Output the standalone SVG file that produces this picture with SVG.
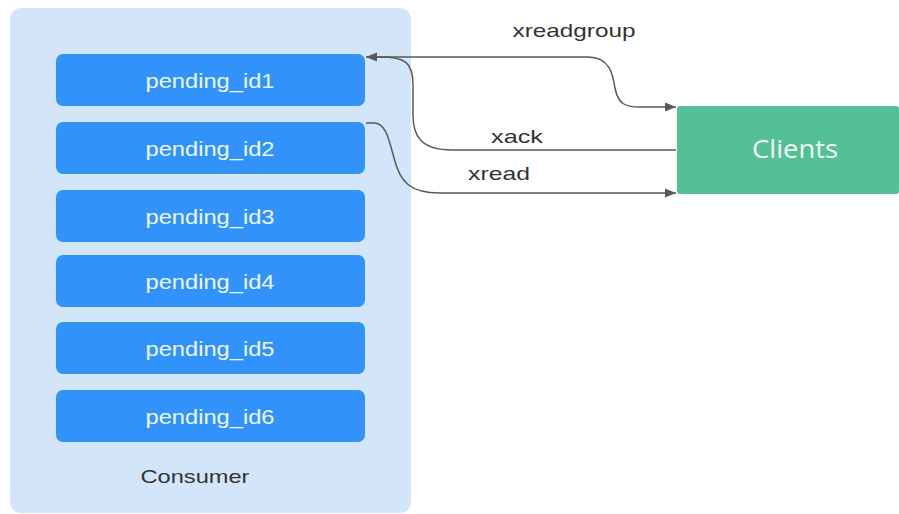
<svg xmlns="http://www.w3.org/2000/svg" width="899" height="514" viewBox="0 0 899 514">
<defs>
<style>
.pend rect{fill:#3193f9}
.pend text{fill:#eef6ff;font-family:"Liberation Sans",Arial,sans-serif;font-size:20px;text-anchor:middle}
.lbl{fill:#333;font-family:"Liberation Sans",Arial,sans-serif;font-size:19px;text-anchor:middle}
.conn path{fill:none;stroke:#5a5a5a;stroke-width:1.5}
</style>
<marker id="ah" viewBox="0 0 10 10" refX="10" refY="5" markerWidth="11" markerHeight="11" markerUnits="userSpaceOnUse" orient="auto">
<path d="M0,1 L10,5 L0,9 Z" fill="#5a5a5a"/>
</marker>
</defs>
<rect width="899" height="514" fill="#ffffff"/>
<g id="consumer">
<rect x="10" y="8" width="401" height="505" rx="11" fill="#d3e5f8"/>
<text x="195" y="483" class="lbl" textLength="109" lengthAdjust="spacingAndGlyphs">Consumer</text>
</g>
<g id="pending_id1" class="pend"><rect x="56" y="54" width="309" height="52" rx="7"/><text x="210" y="88" textLength="129" lengthAdjust="spacingAndGlyphs">pending_id1</text></g>
<g id="pending_id2" class="pend"><rect x="56" y="122" width="309" height="52" rx="7"/><text x="210" y="156" textLength="129" lengthAdjust="spacingAndGlyphs">pending_id2</text></g>
<g id="pending_id3" class="pend"><rect x="56" y="190" width="309" height="52" rx="7"/><text x="210" y="224" textLength="129" lengthAdjust="spacingAndGlyphs">pending_id3</text></g>
<g id="pending_id4" class="pend"><rect x="56" y="255" width="309" height="52" rx="7"/><text x="210" y="289" textLength="129" lengthAdjust="spacingAndGlyphs">pending_id4</text></g>
<g id="pending_id5" class="pend"><rect x="56" y="322" width="309" height="52" rx="7"/><text x="210" y="356" textLength="129" lengthAdjust="spacingAndGlyphs">pending_id5</text></g>
<g id="pending_id6" class="pend"><rect x="56" y="390" width="309" height="52" rx="7"/><text x="210" y="424" textLength="129" lengthAdjust="spacingAndGlyphs">pending_id6</text></g>
<g id="clients">
<rect x="677" y="106" width="222" height="88" rx="3" fill="#55c095"/>
<text x="795" y="158" textLength="86" lengthAdjust="spacingAndGlyphs" style="fill:#eefaf4;font-family:'Open Sans','Liberation Sans',sans-serif;font-size:25px;text-anchor:middle">Clients</text>
</g>
<g id="connectors" class="conn">
<path d="M367,57 H588 C610,57 613,75 615,88 C618,104 625,107 640,107 H676" marker-end="url(#ah)"/>
<path d="M676,150 H452 C420,150 413,135 413,115 V85 C413,62 405,57 380,57 H366" marker-end="url(#ah)"/>
<path d="M366,123 H374 C386,123 389,140 394,158 C400,182 410,193 440,193 H676" marker-end="url(#ah)"/>
</g>
<g id="labels">
<text x="574" y="37" class="lbl" textLength="123" lengthAdjust="spacingAndGlyphs">xreadgroup</text>
<text x="517" y="143" class="lbl" textLength="52" lengthAdjust="spacingAndGlyphs">xack</text>
<text x="499" y="180" class="lbl" textLength="62" lengthAdjust="spacingAndGlyphs">xread</text>
</g>
</svg>
